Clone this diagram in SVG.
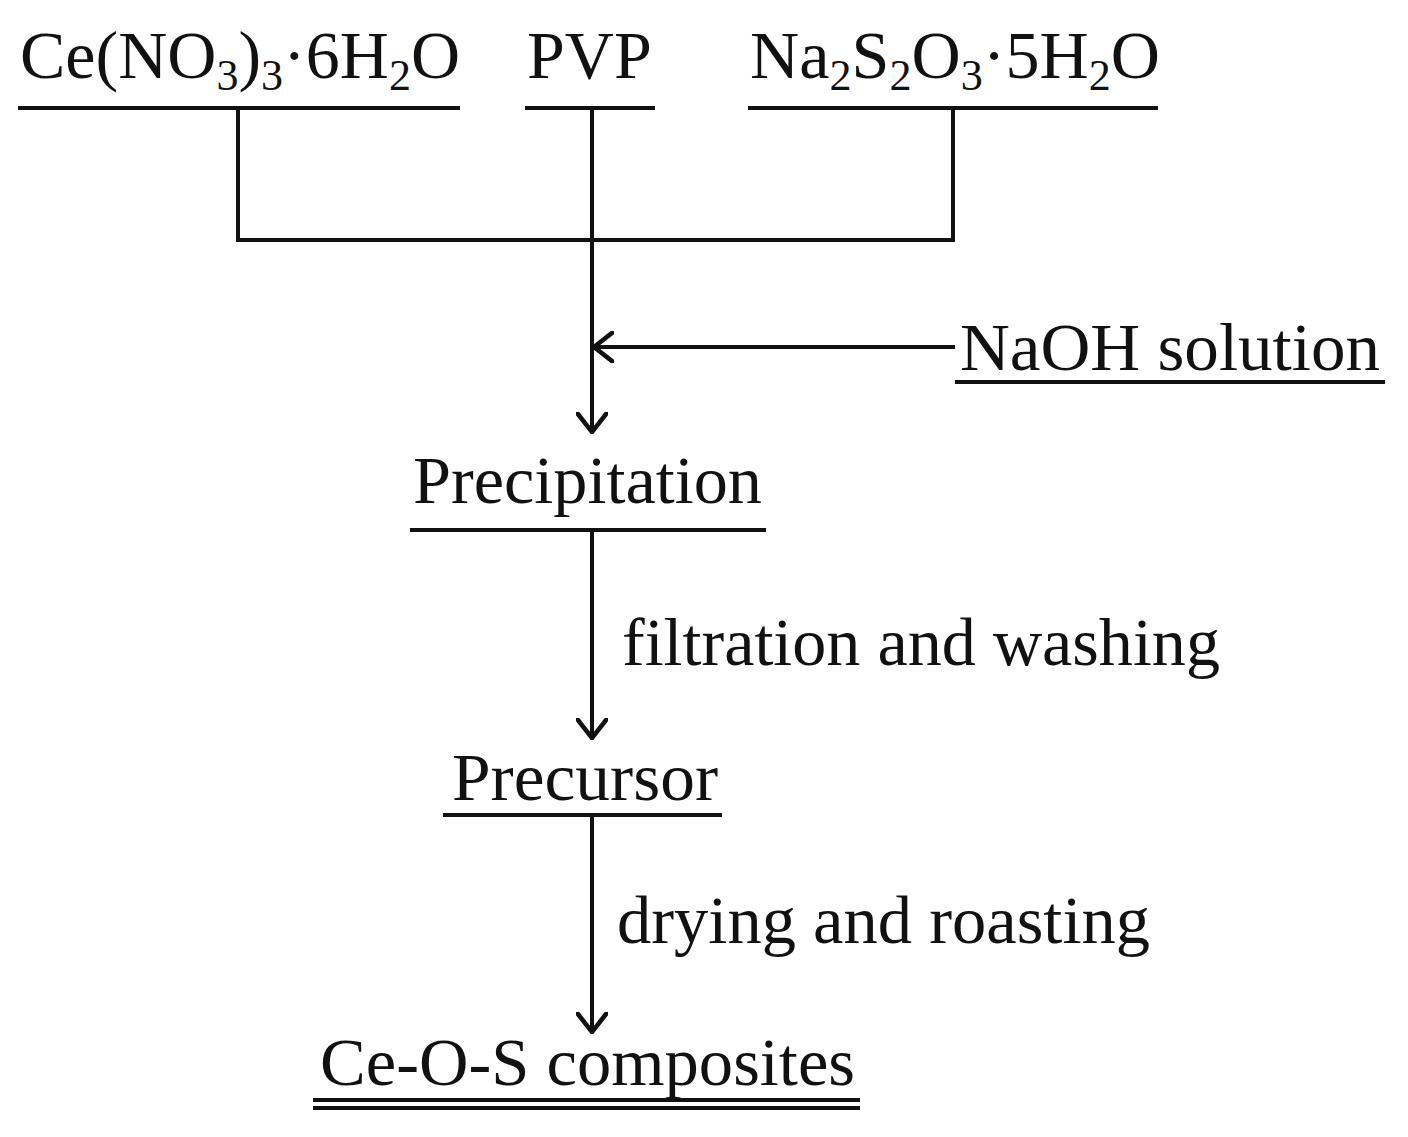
<svg xmlns="http://www.w3.org/2000/svg" width="1408" height="1137" viewBox="0 0 1408 1137">
<style>
text{font-family:"Liberation Serif","Times New Roman",serif;font-size:68px;fill:#111}
.l{stroke:#111;stroke-width:4;fill:none}
</style>
<defs><marker id="a" viewBox="0 0 10 10" refX="9.3" refY="5" markerWidth="22" markerHeight="32" orient="auto" markerUnits="userSpaceOnUse" preserveAspectRatio="none"><path d="M0,0 L9.3,5 L0,10" fill="none" stroke="#111" stroke-width="1.6"/></marker></defs>
<rect width="1408" height="1137" fill="#fff"/>
<g id="ce"><text x="20" y="78" textLength="440" lengthAdjust="spacingAndGlyphs">Ce(NO<tspan font-size="44" dy="12">3</tspan><tspan dy="-12">)</tspan><tspan font-size="44" dy="12">3</tspan><tspan dy="-12">·6H</tspan><tspan font-size="44" dy="12">2</tspan><tspan dy="-12">O</tspan></text><line class="l" x1="18" y1="108" x2="460" y2="108"/></g>
<g id="pvp"><text x="527" y="78">PVP</text><line class="l" x1="525" y1="108" x2="655" y2="108"/></g>
<g id="na"><text x="750" y="78" textLength="410" lengthAdjust="spacingAndGlyphs">Na<tspan font-size="44" dy="12">2</tspan><tspan dy="-12">S</tspan><tspan font-size="44" dy="12">2</tspan><tspan dy="-12">O</tspan><tspan font-size="44" dy="12">3</tspan><tspan dy="-12">·5H</tspan><tspan font-size="44" dy="12">2</tspan><tspan dy="-12">O</tspan></text><line class="l" x1="748" y1="108" x2="1158" y2="108"/></g>
<g id="naoh"><text x="960" y="370" textLength="420" lengthAdjust="spacingAndGlyphs">NaOH solution</text><line class="l" x1="955" y1="382" x2="1385" y2="382"/></g>
<g id="prec"><text x="413" y="503" textLength="349" lengthAdjust="spacingAndGlyphs">Precipitation</text><line class="l" x1="410" y1="530" x2="766" y2="530"/></g>
<g id="precursor"><text x="452" y="800" textLength="266" lengthAdjust="spacingAndGlyphs">Precursor</text><line class="l" x1="443" y1="815" x2="722" y2="815"/></g>
<g id="ceos"><text x="320" y="1085" textLength="535" lengthAdjust="spacingAndGlyphs">Ce-O-S composites</text><line class="l" x1="313" y1="1100" x2="860" y2="1100"/><line class="l" x1="313" y1="1108" x2="860" y2="1108" stroke-width="3"/></g>
<g id="connectors">
<path class="l" d="M238,108 V240 H953 V108"/>
<line class="l" x1="592" y1="108" x2="592" y2="432" marker-end="url(#a)"/>
<line class="l" x1="955" y1="347" x2="594" y2="347" marker-end="url(#a)"/>
<line class="l" x1="592" y1="530" x2="592" y2="738" marker-end="url(#a)"/>
<line class="l" x1="592" y1="815" x2="592" y2="1032" marker-end="url(#a)"/>
<text x="622" y="665" textLength="598" lengthAdjust="spacingAndGlyphs">filtration and washing</text>
<text x="617" y="943" textLength="533" lengthAdjust="spacingAndGlyphs">drying and roasting</text>
</g>
</svg>
